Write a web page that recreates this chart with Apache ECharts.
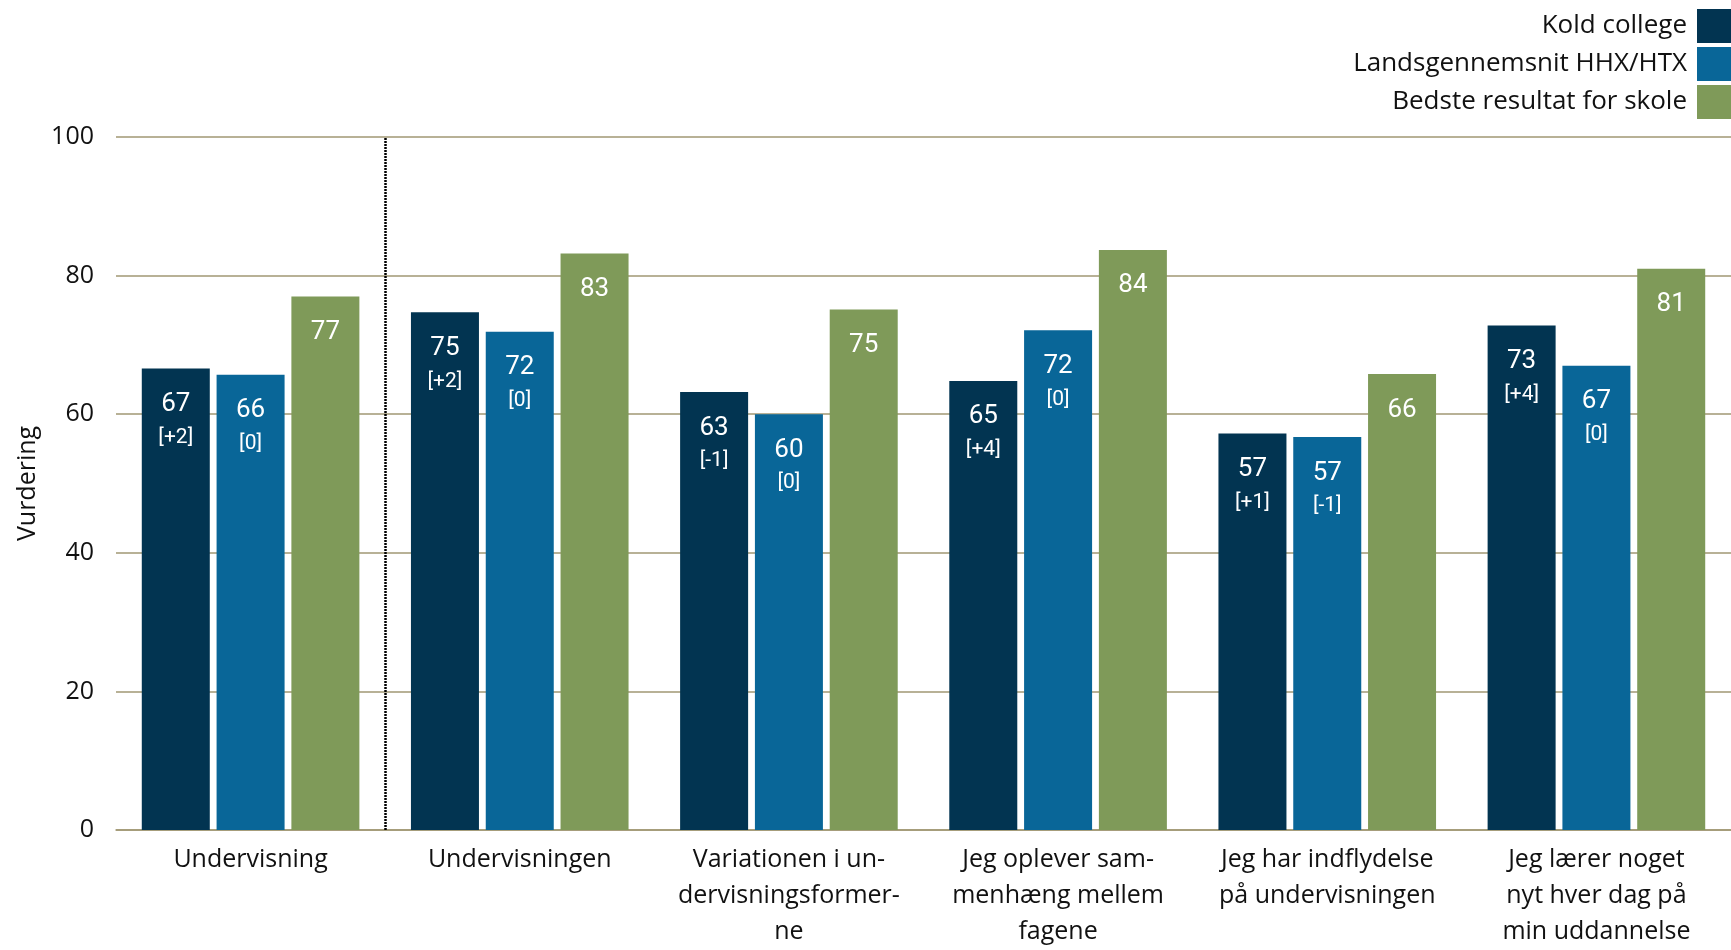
<!DOCTYPE html>
<html>
<head>
<meta charset="utf-8">
<script src="https://cdn.jsdelivr.net/npm/echarts@6/dist/echarts.min.js"></script>
<style>
  html, body { margin: 0; padding: 0; background: #fff; }
  #chart { width: 1731px; height: 950px; }
</style>
</head>
<body>
<div id="chart"></div>
<script>
  // data
  var categories = [
    'Undervisning',
    'Undervisningen',
    'Variationen i un-\ndervisningsformer-\nne',
    'Jeg oplever sam-\nmenhæng mellem\nfagene',
    'Jeg har indflydelse\npå undervisningen',
    'Jeg lærer noget\nnyt hver dag på\nmin uddannelse'
  ]
  var seriesNames = ['Kold college', 'Landsgennemsnit HHX/HTX', 'Bedste resultat for skole']
  var koldValues = [66.6, 74.7, 63.2, 64.8, 57.2, 72.8]
  var koldChange = ['+2', '+2', '-1', '+4', '+1', '+4']
  var landValues = [65.7, 71.9, 60.0, 72.1, 56.7, 67.0]
  var landChange = ['0', '0', '0', '0', '-1', '0']
  var bestValues = [77.0, 83.2, 75.1, 83.7, 65.8, 81.0]
  var yTicks = [0, 20, 40, 60, 80, 100]

  var colors = ['#023451', '#096698', '#7f9a59']
  var gridColor = '#a09773'
  var font = '"Open Sans", "Noto Sans", sans-serif'

  function barLabel (changes) {
    return {
      show: true,
      position: 'insideTop',
      distance: 19,
      color: '#fff',
      fontFamily: 'Roboto, sans-serif',
      formatter: function (p) {
        var txt = '{v|' + Math.round(p.value) + '}'
        if (changes) txt += '\n{c|[' + changes[p.dataIndex] + ']}'
        return txt
      },
      rich: {
        v: { fontSize: 26, lineHeight: 34, color: '#fff', fontFamily: 'Roboto, sans-serif' },
        c: { fontSize: 21, lineHeight: 32, color: '#fff', fontFamily: 'Roboto, sans-serif' }
      }
    }
  }

  var chart = echarts.init(document.getElementById('chart'))
  var option = {
    animation: false,
    textStyle: { fontFamily: font },
    color: colors,
    legend: {
      orient: 'vertical',
      right: -5,
      top: 4,
      align: 'right',
      itemWidth: 34,
      itemHeight: 34,
      itemGap: 4,
      icon: 'rect',
      textStyle: { fontSize: 26, color: '#111', fontFamily: font, padding: [0, 5, 0, 0] },
      data: seriesNames
    },
    grid: { left: 116, right: -3, top: 137, bottom: 116, containLabel: false },
    xAxis: [
      {
        type: 'category',
        data: categories,
        axisLine: { lineStyle: { color: gridColor, width: 1.5 } },
        axisTick: { show: false },
        axisLabel: { interval: 0, fontSize: 25, lineHeight: 36, color: '#111', margin: 12, fontFamily: font }
      },
      {
        type: 'value',
        min: 0,
        max: categories.length,
        show: false
      }
    ],
    yAxis: {
      type: 'value',
      min: yTicks[0],
      max: yTicks[yTicks.length - 1],
      interval: 20,
      name: 'Vurdering',
      nameLocation: 'middle',
      nameGap: 75,
      nameTextStyle: { fontSize: 25, color: '#111', fontFamily: font },
      axisLine: { show: false },
      axisTick: { show: false },
      axisLabel: { fontSize: 25, color: '#111', margin: 22, fontFamily: font },
      splitLine: { lineStyle: { color: gridColor, width: 1.5 } }
    },
    series: [
      {
        name: seriesNames[0],
        type: 'bar',
        barWidth: 68,
        barGap: '10%',
        data: koldValues,
        label: barLabel(koldChange)
      },
      {
        name: seriesNames[1],
        type: 'bar',
        barWidth: 68,
        barGap: '10%',
        data: landValues,
        label: barLabel(landChange)
      },
      {
        name: seriesNames[2],
        type: 'bar',
        barWidth: 68,
        barGap: '10%',
        data: bestValues,
        label: barLabel(null)
      },
      {
        // dotted divider after the first (summary) category
        type: 'scatter',
        xAxisIndex: 1,
        symbolSize: 0,
        data: [[1, 0]],
        silent: true,
        markLine: {
          silent: true,
          symbol: 'none',
          label: { show: false },
          lineStyle: { type: [2, 1], color: '#000', width: 2.5 },
          data: [{ xAxis: 1 }]
        }
      }
    ]
  }
  chart.setOption(option)
</script>
</body>
</html>
